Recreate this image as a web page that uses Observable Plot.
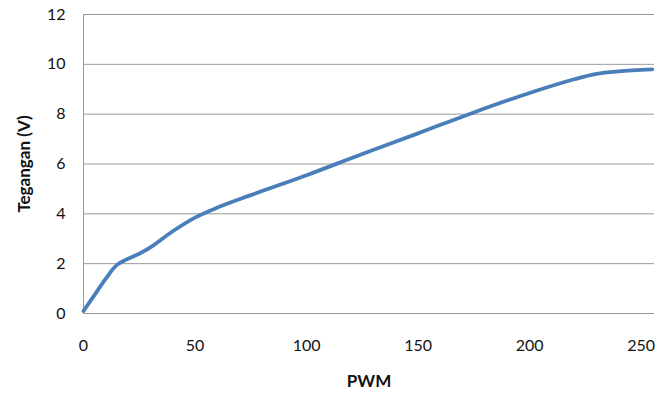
<!DOCTYPE html>
<html><head><meta charset="utf-8">
<script src="https://cdn.jsdelivr.net/npm/d3@7"></script>
<script src="https://cdn.jsdelivr.net/npm/@observablehq/plot@0.6"></script>
<style>body{margin:0;background:#fff}</style>
</head><body><div id="chart"></div>
<script>
const pwm =     [0,   5,    10,  15,   20,  25,  30,   40,  50,   60,   75,   100,  125, 150,  175,  200,  220, 230,  240,  255];
const tegangan = [0.1, 0.75, 1.4, 1.95, 2.2, 2.4, 2.65, 3.3, 3.85, 4.25, 4.75, 5.55, 6.4, 7.23, 8.07, 8.85, 9.4, 9.62, 9.72, 9.8];
const xTicks = [0, 50, 100, 150, 200, 250];
const yTicks = [0, 2, 4, 6, 8, 10, 12];
const data = pwm.map((x, i) => ({x, y: tegangan[i]}));

const chart = Plot.plot({
  width: 659, height: 394,
  marginLeft: 83, marginRight: 5, marginTop: 14, marginBottom: 81,
  style: {fontFamily: "Lato, 'Open Sans', sans-serif", fontSize: "16px", color: "#111", background: "#fff"},
  x: {domain: [0, 256]},
  y: {domain: [0, 12]},
  marks: [
    Plot.gridY(yTicks, {stroke: "#999", strokeOpacity: 1, strokeWidth: 1}),
    Plot.ruleX([0], {stroke: "#999", strokeWidth: 1}),
    Plot.axisX(xTicks, {tickSize: 0, tickPadding: 26, label: "PWM", labelAnchor: "center", labelArrow: "none", labelOffset: 73, fontSize: 16}),
    Plot.axisY(yTicks, {tickSize: 0, tickPadding: 18, label: "Tegangan (V)", labelAnchor: "center", labelArrow: "none", labelOffset: 66, fontSize: 16}),
    Plot.line(data, {x: "x", y: "y", stroke: "#4a7ebb", strokeWidth: 3.8, curve: "catmull-rom"})
  ]
});
d3.select(chart).selectAll("[aria-label='x-axis label'] text, [aria-label='y-axis label'] text").attr("font-weight", "bold").attr("font-size", 17);
document.getElementById("chart").append(chart);
</script></body></html>
